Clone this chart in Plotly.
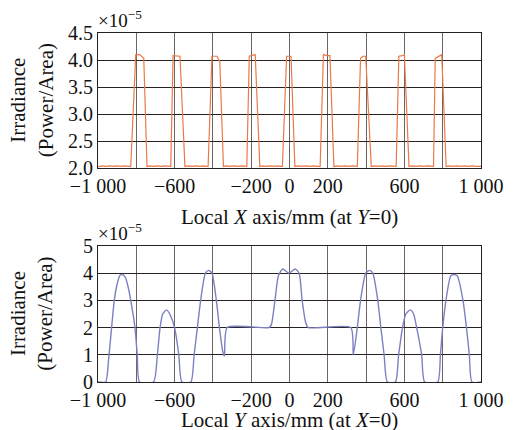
import plotly.graph_objects as go
from plotly.subplots import make_subplots

# ---- top panel: irradiance along local X (at Y=0), units 1e-5 ----
x_top = [-1000, -980, -960, -940, -920, -900, -880, -860, -840,
         -829, -803, -783, -761, -744,
         -730, -710, -690, -670, -650, -630,
         -620, -608, -583, -572, -546,
         -530, -510, -490, -470, -450, -435,
         -425, -405, -379, -364, -345,
         -330, -310, -290, -270, -250, -235,
         -223, -210, -195, -179, -155,
         -140, -120, -100, -80, -60, -45,
         -37, -15, 8, 28,
         45, 65, 85, 105, 125, 145,
         160, 177, 195, 211, 232,
         250, 270, 290, 310, 330, 345,
         354, 371, 384, 398, 427,
         445, 465, 485, 505, 525, 545,
         557, 571, 590, 600, 624,
         640, 660, 680, 700, 720, 740,
         752, 761, 795, 818,
         835, 855, 875, 895, 915, 935, 955, 975, 1000]
y_top = [2.02, 2.04, 2.03, 2.04, 2.03, 2.04, 2.03, 2.04, 2.03,
         2.03, 4.10, 4.10, 4.03, 2.03,
         2.04, 2.03, 2.04, 2.03, 2.04, 2.03,
         2.03, 4.08, 4.08, 4.07, 2.03,
         2.04, 2.03, 2.04, 2.03, 2.04, 2.03,
         2.03, 4.07, 4.07, 3.97, 2.03,
         2.04, 2.03, 2.04, 2.03, 2.04, 2.03,
         2.03, 4.07, 4.08, 4.10, 2.03,
         2.04, 2.03, 2.04, 2.03, 2.04, 2.03,
         2.03, 4.07, 4.07, 2.03,
         2.04, 2.03, 2.04, 2.03, 2.04, 2.03,
         2.03, 4.10, 4.08, 4.08, 2.03,
         2.04, 2.03, 2.04, 2.03, 2.04, 2.03,
         2.03, 4.03, 4.07, 4.07, 2.03,
         2.04, 2.03, 2.04, 2.03, 2.04, 2.03,
         2.03, 4.07, 4.08, 4.10, 2.03,
         2.04, 2.03, 2.04, 2.03, 2.04, 2.03,
         2.03, 4.03, 4.10, 2.03,
         2.04, 2.03, 2.04, 2.03, 2.04, 2.03, 2.04, 2.03, 2.03]

# ---- bottom panel: irradiance along local Y (at X=0), units 1e-5 ----
x_bot = [-1000, -960, -945, -929, -915, -900, -885, -872, -858, -843, -829, -807, -795, -783,
         -710, -690, -676, -662, -642, -622, -600, -578, -562,
         -515, -498, -481, -464, -439, -422, -405, -382, -366, -348, -340, -325,
         -108, -95, -76, -58, -36, -3, 30, 50, 66, 84, 98,
         320, 333, 354, 371, 398, 418, 435, 461, 477, 494, 511,
         553, 570, 590, 608, 630, 648, 664, 690, 706,
         774, 788, 800, 817, 842, 859, 876, 906, 924, 939, 953, 1000]
y_bot = [0, 0, 0.8, 2.0, 3.0, 3.6, 3.92, 3.95, 3.85, 3.5, 3.0, 2.0, 1.0, 0,
         0, 1.0, 2.0, 2.5, 2.65, 2.45, 2.0, 1.0, 0,
         0, 1.0, 2.0, 3.0, 4.0, 4.1, 4.0, 3.0, 2.0, 1.1, 0.95, 2.0,
         2.0, 2.1, 3.0, 3.9, 4.15, 4.0, 4.15, 4.0, 3.0, 2.2, 2.0,
         2.0, 1.0, 2.0, 3.0, 4.0, 4.1, 4.0, 3.0, 2.0, 1.0, 0,
         0, 1.0, 2.0, 2.5, 2.65, 2.5, 2.0, 1.0, 0,
         0, 1.0, 2.0, 3.0, 3.9, 3.95, 3.9, 3.0, 2.0, 1.0, 0, 0]

x_tickvals = [-1000, -800, -600, -400, -200, 0, 200, 400, 600, 800, 1000]
x_ticktext = ["\u22121 000", "", "\u2212600", "", "\u2212200", "0", "200", "", "600", "",
              "1 000"]
top_yticks = [2.0, 2.5, 3.0, 3.5, 4.0, 4.5]
bot_yticks = [0, 1, 2, 3, 4, 5]

FONT = "Liberation Serif"
TXT = "#111"

fig = make_subplots(rows=2, cols=1, vertical_spacing=0.0)

fig.add_trace(go.Scatter(x=x_top, y=y_top, mode="lines",
                         line=dict(color="#e97a48", width=1.2),
                         showlegend=False), row=1, col=1)
fig.add_trace(go.Scatter(x=x_bot, y=y_bot, mode="lines",
                         line=dict(color="#7b80c2", width=1.4, shape="spline", smoothing=0.6),
                         showlegend=False), row=2, col=1)

axis_common = dict(showline=True, linecolor="#222", linewidth=1, mirror=True,
                   ticks="", tickfont=dict(family=FONT, size=20, color=TXT),
                   zeroline=False)

fig.update_xaxes(range=[-1000, 1000], tickvals=x_tickvals, ticktext=x_ticktext,
                 showgrid=True, gridcolor="#6e6464", gridwidth=1.4,
                 ticklabeloverflow="allow", **axis_common)
fig.update_yaxes(showgrid=True, gridcolor="#2a2222", gridwidth=1, **axis_common)

fig.update_yaxes(range=[2.0, 4.5], tickvals=top_yticks, tickformat=".1f",
                 domain=[0.613, 1.0], row=1, col=1)
fig.update_yaxes(range=[0, 5], tickvals=bot_yticks, domain=[0.0, 0.39], row=2, col=1)

# x-axis titles placed as annotations for exact vertical position
fig.add_annotation(text="Local <i>X</i> axis/mm (at <i>Y</i>=0)", xref="x domain", yref="paper",
                   x=0.5, y=0.473, yanchor="middle", showarrow=False,
                   font=dict(family=FONT, size=21, color=TXT))
fig.add_annotation(text="Local <i>Y</i> axis/mm (at <i>X</i>=0)", xref="x2 domain", yref="paper",
                   x=0.5, y=-0.109, yanchor="middle", showarrow=False,
                   font=dict(family=FONT, size=21, color=TXT))

for yref in ("y domain", "y2 domain"):
    fig.add_annotation(text="Irradiance<br>(Power/Area)", xref="paper", yref=yref,
                       x=-0.173, y=0.5, textangle=-90, showarrow=False, xanchor="center",
                       font=dict(family=FONT, size=21, color=TXT))
    fig.add_annotation(text="\u00d710<sup>\u22125</sup>", xref="paper", yref=yref,
                       x=-0.005, y=1.0, yanchor="bottom", xanchor="left", showarrow=False,
                       font=dict(family=FONT, size=19, color=TXT))

# page body has an 8px default margin, so the figure is sized to fit the window
fig.update_layout(width=508, height=422,
                  margin=dict(l=90, r=25, t=25, b=48),
                  paper_bgcolor="white", plot_bgcolor="white",
                  font=dict(family=FONT, color=TXT))

fig.write_html("out.html")
